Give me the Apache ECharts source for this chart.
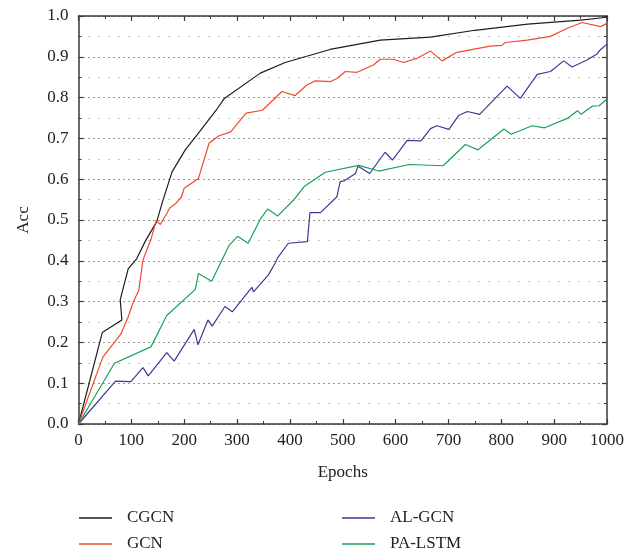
<!DOCTYPE html>
<html>
<head>
<meta charset="utf-8">
<script src="https://cdn.jsdelivr.net/npm/echarts@6/dist/echarts.min.js"></script>
<style>
  html, body { margin: 0; padding: 0; background: #fff; }
  #chart { width: 629px; height: 554px; }
</style>
</head>
<body>
<div id="chart"></div>
<script>
// series names
const seriesNames = ['CGCN', 'GCN', 'AL-GCN', 'PA-LSTM']

// [epoch, acc] pairs
const cgcn = [[0, 0], [45, 0.224], [82, 0.255], [79, 0.305], [94, 0.38], [110, 0.405], [126, 0.447], [148, 0.496], [159, 0.545], [177, 0.618], [202, 0.672], [224, 0.708], [262, 0.772], [276, 0.798], [344, 0.86], [391, 0.886], [476, 0.918], [571, 0.941], [666, 0.948], [750, 0.965], [850, 0.98], [950, 0.99], [1000, 0.997]]
const gcn = [[0, 0], [46, 0.164], [80, 0.22], [94, 0.263], [104, 0.3], [114, 0.327], [122, 0.402], [137, 0.452], [147, 0.499], [155, 0.489], [173, 0.53], [183, 0.539], [195, 0.557], [200, 0.578], [227, 0.602], [247, 0.688], [265, 0.706], [288, 0.716], [317, 0.762], [348, 0.769], [385, 0.815], [410, 0.805], [432, 0.831], [448, 0.841], [476, 0.839], [489, 0.847], [505, 0.864], [527, 0.862], [558, 0.88], [571, 0.894], [596, 0.894], [615, 0.886], [640, 0.896], [666, 0.914], [688, 0.89], [716, 0.911], [779, 0.926], [801, 0.928], [808, 0.935], [849, 0.941], [893, 0.95], [925, 0.97], [953, 0.984], [988, 0.974], [1000, 0.982]]
const alGcn = [[0, 0], [70, 0.105], [99, 0.104], [122, 0.138], [132, 0.118], [167, 0.175], [181, 0.154], [219, 0.232], [226, 0.194], [245, 0.255], [253, 0.24], [277, 0.288], [291, 0.275], [328, 0.335], [331, 0.324], [359, 0.365], [372, 0.394], [377, 0.408], [397, 0.443], [433, 0.447], [438, 0.518], [458, 0.518], [489, 0.557], [495, 0.594], [503, 0.596], [524, 0.614], [529, 0.632], [551, 0.614], [580, 0.666], [594, 0.647], [622, 0.695], [648, 0.694], [666, 0.724], [678, 0.731], [701, 0.722], [719, 0.756], [736, 0.766], [759, 0.759], [811, 0.828], [836, 0.798], [868, 0.857], [893, 0.864], [918, 0.89], [934, 0.875], [962, 0.892], [981, 0.907], [988, 0.918], [1000, 0.931]]
const paLstm = [[0, 0], [68, 0.149], [137, 0.189], [167, 0.266], [221, 0.33], [227, 0.369], [252, 0.35], [285, 0.438], [301, 0.46], [321, 0.443], [344, 0.502], [358, 0.527], [377, 0.51], [407, 0.549], [427, 0.582], [467, 0.617], [530, 0.634], [568, 0.62], [626, 0.636], [690, 0.633], [732, 0.685], [756, 0.672], [805, 0.723], [819, 0.71], [858, 0.731], [882, 0.726], [925, 0.749], [944, 0.768], [951, 0.759], [972, 0.779], [985, 0.78], [1000, 0.796]]

const colors = ['#1e1e1e', '#ee4a2c', '#3b3a98', '#17a257']
const font = '"Liberation Serif", "DejaVu Serif", serif'

const myChart = echarts.init(document.getElementById('chart'), null, { renderer: 'canvas' })

const frameLine = { show: true, onZero: false, lineStyle: { color: '#3a3a3a', width: 1.5 } }
const tick = { show: true, inside: true, length: 5, lineStyle: { color: '#3a3a3a', width: 1.2 } }
const minor = { show: true, splitNumber: 2, length: 3, lineStyle: { color: '#3a3a3a', width: 1 } }

function line(name, data, color) {
  return {
    name: name,
    type: 'line',
    data: data,
    xAxisIndex: 0,
    yAxisIndex: 0,
    showSymbol: false,
    symbol: 'none',
    lineStyle: { color: color, width: 1.2 },
    itemStyle: { color: color }
  }
}

const legendBase = {
  orient: 'vertical',
  icon: 'rect',
  padding: 0,
  itemWidth: 33,
  itemHeight: 1.5,
  itemGap: 8,
  height: 46,
  textStyle: { fontFamily: font, fontSize: 17, lineHeight: 18, color: '#222', padding: [0, 0, 0, 10] }
}

myChart.setOption({
  animation: false,
  color: colors,
  grid: { left: 78.5, right: 22, top: 16, bottom: 130 },
  legend: [
    Object.assign({}, legendBase, { left: 79, top: 509, data: seriesNames.slice(0, 2) }),
    Object.assign({}, legendBase, { left: 342, top: 509, data: seriesNames.slice(2) })
  ],
  xAxis: [
    {
      type: 'value',
      position: 'bottom',
      min: 0,
      max: 1000,
      interval: 100,
      axisLine: frameLine,
      axisTick: tick,
      minorTick: minor,
      splitLine: { show: false },
      axisLabel: { fontFamily: font, fontSize: 17, color: '#222', margin: 8, formatter: v => String(v) },
      name: 'Epochs',
      nameLocation: 'middle',
      nameGap: 40,
      nameTextStyle: { fontFamily: font, fontSize: 17, color: '#222' }
    },
    {
      type: 'value',
      position: 'top',
      min: 0,
      max: 1000,
      interval: 100,
      axisLine: frameLine,
      axisTick: tick,
      minorTick: minor,
      splitLine: { show: false },
      axisLabel: { show: false }
    }
  ],
  yAxis: [
    {
      type: 'value',
      position: 'left',
      min: 0,
      max: 1,
      interval: 0.1,
      axisLine: frameLine,
      axisTick: tick,
      minorTick: minor,
      splitLine: { show: true, lineStyle: { color: '#333', width: 1, type: [1, 4] } },
      minorSplitLine: { show: true, lineStyle: { color: '#8a8a8a', width: 1, type: [1, 9] } },
      axisLabel: {
        fontFamily: font,
        fontSize: 17,
        color: '#222',
        margin: 10,
        formatter: v => v.toFixed(1)
      },
      name: 'Acc',
      nameLocation: 'middle',
      nameGap: 46,
      nameTextStyle: { fontFamily: font, fontSize: 17, color: '#222' }
    },
    {
      type: 'value',
      position: 'right',
      min: 0,
      max: 1,
      interval: 0.1,
      axisLine: frameLine,
      axisTick: tick,
      minorTick: minor,
      splitLine: { show: false },
      axisLabel: { show: false }
    }
  ],
  series: [
    line(seriesNames[0], cgcn, colors[0]),
    line(seriesNames[1], gcn, colors[1]),
    line(seriesNames[2], alGcn, colors[2]),
    line(seriesNames[3], paLstm, colors[3])
  ]
})

window.onresize = function() {
  myChart.resize()
}
</script>
</body>
</html>
